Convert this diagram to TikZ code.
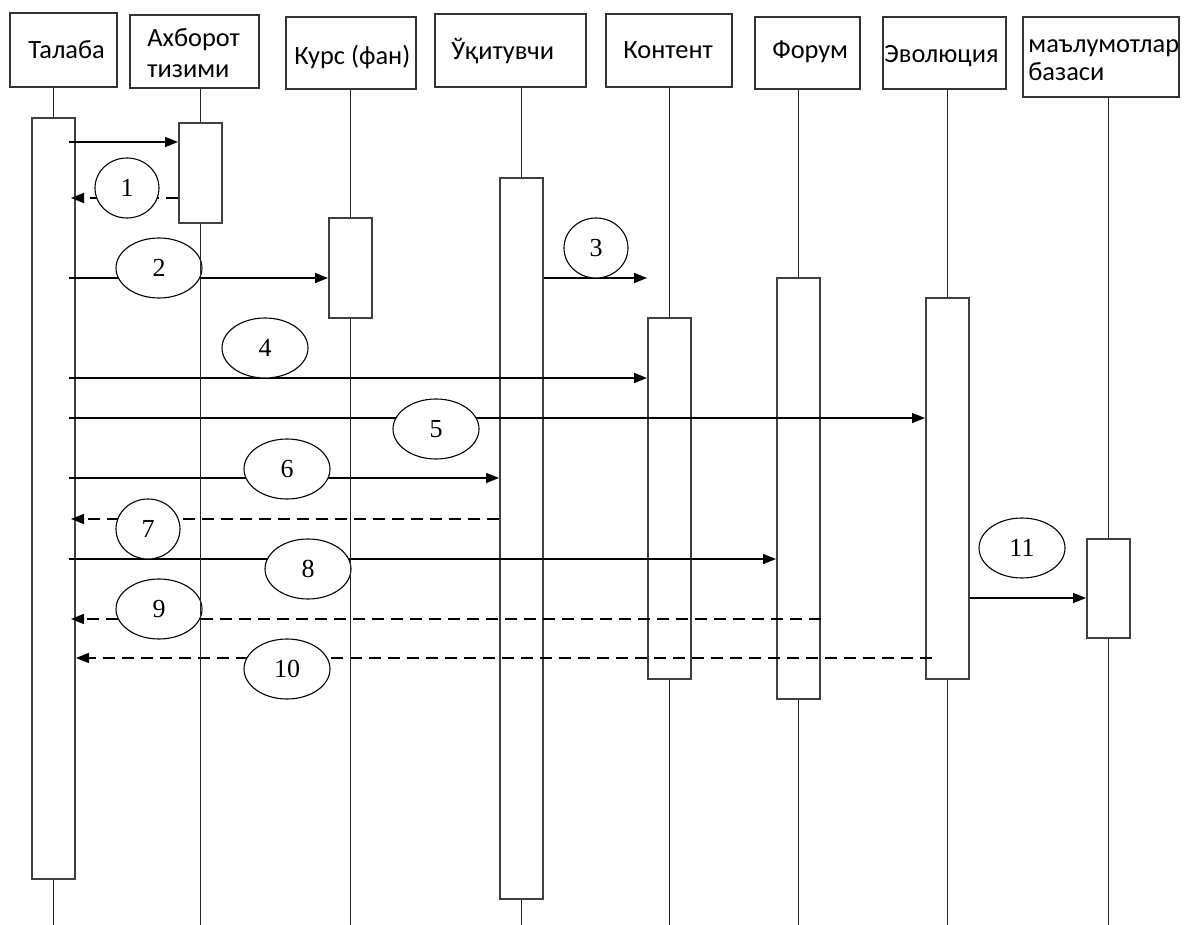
\documentclass[tikz,border=0pt]{standalone}
\usepackage{fontspec}
\setmainfont{Liberation Serif}
\newfontfamily\headfont{Carlito}
\usetikzlibrary{arrows.meta,shapes.geometric,fit}

\begin{document}
\begin{tikzpicture}[x=0.5pt,y=-0.5pt,
  headbox/.style={draw=black!80, line width=1pt, inner sep=0pt},
  headtext/.style={font=\headfont\fontsize{13.2}{15}\selectfont, inner sep=0pt, anchor=base west},
  actbox/.style={draw=black!75, line width=1pt, fill=white, inner sep=0pt},
  lifeline/.style={draw=black!85, line width=0.85pt},
  call/.style={line width=0.85pt, -{Triangle[length=6.5pt,width=5pt]}},
  reply/.style={call, dash pattern=on 6pt off 3.5pt},
  num/.style={draw, ellipse, fill=white, line width=0.55pt, inner sep=0pt,
    minimum width=43pt, minimum height=30pt, font=\fontsize{13}{15}\selectfont},
  narrow/.style={minimum width=32pt},
]
\useasboundingbox (0,0) rectangle (1185,925);

% participant heads
\node[headbox, fit={(10,13) (117,87)}] (hT) {};
\node[headbox, fit={(130,15) (259,88)}] (hA) {};
\node[headbox, fit={(286,17) (416,89)}] (hK) {};
\node[headbox, fit={(435,14) (586,87)}] (hU) {};
\node[headbox, fit={(606,14) (732,87)}] (hC) {};
\node[headbox, fit={(755,17) (860,89)}] (hF) {};
\node[headbox, fit={(883,17) (1006,89)}] (hE) {};
\node[headbox, fit={(1023,17) (1179,97)}] (hM) {};

\node[headtext] (tT) at (28,59) {Талаба};
\node[headtext] (tA1) at (147,47) {Ахборот};
\node[headtext] (tA2) at (147,78) {тизими};
\node[headtext] (tK) at (294,65) {Курс (фан)};
\node[headtext] (tU) at (451,60) {Ўқитувчи};
\node[headtext] (tC) at (623,59) {Контент};
\node[headtext] (tF) at (772,59) {Форум};
\node[headtext] (tE) at (884,63) {Эволюция};
\node[headtext] (tM1) at (1028,53) {маълумотлар};
\node[headtext] (tM2) at (1028,81) {базаси};

% activation bars
\node[actbox, fit={(32,118) (75,879)}] (actT) {};
\node[actbox, fit={(179,123) (222,223)}] (actA) {};
\node[actbox, fit={(329,218) (372,318)}] (actK) {};
\node[actbox, fit={(500,178) (543,899)}] (actU) {};
\node[actbox, fit={(648,318) (691,679)}] (actC) {};
\node[actbox, fit={(777,278) (820,699)}] (actF) {};
\node[actbox, fit={(926,298) (969,679)}] (actE) {};
\node[actbox, fit={(1087,539) (1130,638)}] (actM) {};

\coordinate (bot) at (0,925);
\coordinate (tsend) at ([xshift=-3.5pt]actT.east);
\coordinate (trecv) at ([xshift=-2.5pt]actT.east);
\coordinate (esend) at ([xshift=3.5pt]actE.west);

% message rows
\coordinate (r0) at (0,142);
\coordinate (r1) at (0,198);
\coordinate (r2) at (0,278);
\coordinate (r4) at (0,378);
\coordinate (r5) at (0,418);
\coordinate (r6) at (0,478);
\coordinate (r7) at (0,519);
\coordinate (r8) at (0,559);
\coordinate (r11) at (0,598);
\coordinate (r9) at (0,619);
\coordinate (r10) at (0,658);

% messages
\draw[call] (tsend |- r0) -- (actA.west |- r0);
\draw[reply] (actA.west |- r1) -- (trecv |- r1);
\draw[call] (tsend |- r2) -- (actK.west |- r2);
\draw[call] (actU.east |- r2) -- (actC.west |- r2);
\draw[call] (tsend |- r4) -- (actC.west |- r4);
\draw[call] (tsend |- r5) -- (actE.west |- r5);
\draw[call] (tsend |- r6) -- (actU.west |- r6);
\draw[reply] (actU.west |- r7) -- (trecv |- r7);
\draw[call] (tsend |- r8) -- (actF.west |- r8);
\draw[reply] (actF.east |- r9) -- (trecv |- r9);
\draw[reply] (esend |- r10) -- (actT.east |- r10);
\draw[call] (actE.east |- r11) -- (actM.west |- r11);

% message numbers
\node[num, narrow] (n1) at (127,188) {1};
\node[num] (n2) at (159,268) {2};
\node[num, narrow] (n3) at (596,248) {3};
\node[num] (n4) at (265,348) {4};
\node[num] (n5) at (436,429) {5};
\node[num] (n6) at (287,469) {6};
\node[num, narrow] (n7) at (148,529) {7};
\node[num] (n8) at (308,569) {8};
\node[num] (n9) at (159,609) {9};
\node[num] (n10) at (287,669) {10};
\node[num] (n11) at (1022,548) {11};

% lifelines
\foreach \h/\a in {hT/actT, hA/actA, hK/actK, hU/actU, hC/actC, hF/actF, hE/actE, hM/actM} {
  \draw[lifeline] (\h.south -| \a.north) -- (\a.north);
  \draw[lifeline] (\a.south) -- (\a.south |- bot);
}
\end{tikzpicture}
\end{document}
